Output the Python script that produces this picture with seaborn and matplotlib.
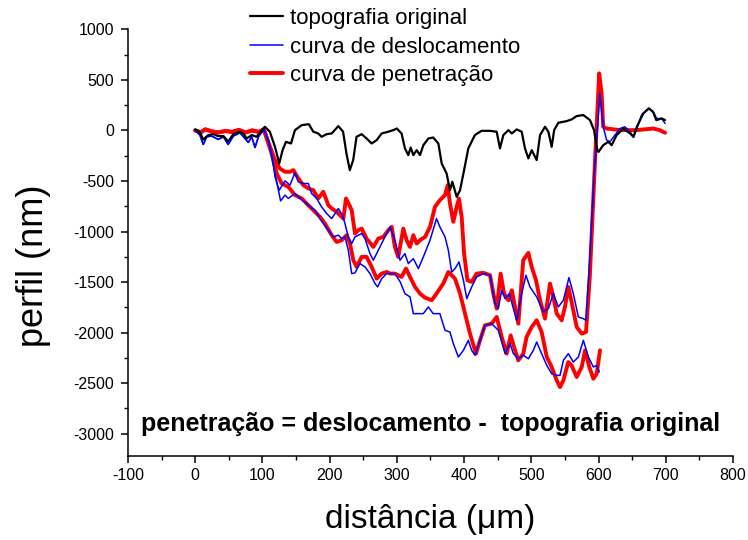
import numpy as np
import pandas as pd
import matplotlib
matplotlib.use("Agg")
import matplotlib.pyplot as plt
from matplotlib.lines import Line2D
from matplotlib.ticker import MultipleLocator
import seaborn as sns

# ---------------- data ----------------
topo_x = [0, 4.6, 7, 12, 19.5, 27, 34.4, 42, 49, 56.7, 66.6, 71.6, 76.5, 84, 91.4, 98.9, 103.8, 111,
          118.7, 125, 130, 135, 142.5, 148.4, 158.4, 169, 175.7, 183, 188, 195.6, 203, 213, 220, 225,
          230, 235, 240, 247.6, 255, 262.5, 270, 277.4, 287.3, 294.7, 300, 307, 312, 317, 320.5, 324.5,
          329.5, 334.4, 339.4, 346.8, 354, 361.7, 366.7, 374, 379, 382.5, 389, 394, 400, 406.3, 416,
          426, 438.6, 448.5, 453.4, 458.4, 466, 471, 478.2, 485.7, 490.6, 495.6, 500.6, 508, 513,
          520.4, 525.4, 530.3, 534, 540.2, 552.6, 560, 567.5, 577.4, 587.3, 593.3, 598.2, 600, 607,
          614.5, 619.5, 627, 637, 647, 652, 657, 666.6, 675, 681, 686, 694, 699]
topo_y = [10, -4, -20, -90, -46, -37, -56, -56, -110, -37, -13, -30, -80, -46, -63, 3, 36, -13,
          -162, -327, -195, -113, -129, 3, 52, 62, -13, -30, -63, -37, -30, 43, -13, -228,
          -393, -294, -63, -37, -80, -129, -96, -30, -13, 3, 19, -30, -178, -244, -169, -244,
          -195, -244, -146, -80, -70, -129, -327, -426, -591, -508, -657, -591, -393, -178, -46,
          -4, -4, -13, -178, -46, 3, -30, 10, -13, -178, -277, -195, -294, -46,
          36, -13, -162, 3, 76, 92, 109, 142, 152, 102, 3, -195, -212, -146,
          -112, -146, -46, 19, -30, -63, 36, 168, 218, 184, 102, 118, 102]

desl_start_x = [0, 7, 12, 17, 24.5, 34.4, 42, 49, 56.7, 66.6, 74, 79, 84, 89, 94, 102]
desl_start_y = [3, -46, -139, -63, -56, -89, -63, -139, -56, -23, -80, -119, -63, -169, -63, 10]

desl1_x = [108.8, 114.7, 118.7, 125, 133.6, 141, 148.4, 153.4, 160.8, 168.3, 173.2, 180.7, 188,
           195.6, 203, 213, 218.9, 222.8, 227.8, 232.8, 237.7, 247.6, 252.6, 260, 265, 272.4, 282.3,
           290, 297, 304.7, 312, 317, 324.5, 332, 339.4, 349.3, 359, 364, 371.6, 376.6, 381.5, 386.5,
           392.4, 399, 404, 411.3, 418.7, 428.7, 438.6, 446, 451, 456, 461, 467.3, 473.3, 478.2,
           485.7, 492, 498, 508, 518, 525.4, 532.8, 540.2, 547.7, 556, 562.5, 570, 577.4, 581.4,
           587, 593.3, 602, 607, 612, 617, 624.4, 632, 639, 647, 652, 657, 664, 674, 681.5, 686.4,
           694, 699]
desl1_y = [-96, -256, -459, -591, -499, -541, -419, -508, -525, -525, -624, -673, -756,
           -822, -872, -773, -839, -921, -1053, -1119, -1053, -1020, -1070, -1218, -1284, -1185, -1053,
           -954, -1086, -1284, -1218, -1317, -1268, -1367, -1251, -1086, -872, -954, -1053, -1185, -1400, -1367,
           -1301, -1482, -1664, -1548, -1449, -1416, -1432, -1713, -1762, -1581, -1664, -1614, -1762, -1878,
           -1614, -1432, -1548, -1647, -1796, -1762, -1614, -1746, -1680, -1456, -1614, -1845, -1862, -1878,
           -1251, -459, 366, 36, -96, -112, -46, 19, 36, -13, -69, 19, 152, 218, 184, 118,
           118, 69]

desl2_x = [108.8, 114.7, 121, 127, 133.6, 138.5, 148.4, 158.4, 168.3, 178.2, 185.6, 190.6, 198,
           205.5, 213, 218, 222.8, 227.8, 232.8, 237.7, 245, 252.6, 260, 267.5, 271.4, 277.4, 284.8,
           290, 297, 305, 312, 319.6, 324.5, 332, 339.4, 346.8, 354, 364, 371.6, 379, 384, 391.5, 399,
           406.3, 411.3, 416.3, 423.7, 431, 441, 451, 461, 468.3, 473.3, 480.7, 488, 495.6, 503, 508,
           515.4, 523, 530.3, 537.8, 542.7, 547.7, 555.1, 562.5, 570, 577.4, 585, 592.3, 597.3, 601.2]
desl2_y = [-96, -294, -500, -697, -640, -673, -624, -683, -740, -789, -872, -921, -987,
           -1053, -1036, -1070, -1053, -1185, -1416, -1409, -1317, -1350, -1416, -1515, -1548, -1466, -1416,
           -1416, -1416, -1498, -1614, -1647, -1812, -1812, -1812, -1746, -1812, -1812, -1977, -1994, -2109, -2241, -2175,
           -2076, -2175, -2224, -2076, -1928, -1911, -1977, -2208, -2109, -2208, -2258, -2224, -2258, -2175, -2093,
           -2208, -2324, -2406, -2423, -2423, -2274, -2208, -2291, -2241, -2076, -2241, -2340, -2324, -2390]

pen_start_x = [0, 8, 15, 25, 35, 45, 55, 65, 75, 85, 95, 102]
pen_start_y = [0, -20, 10, -10, -20, -5, -15, 5, -20, 0, -15, 10]

pen1_x = [111.3, 118.7, 126, 133.6, 141, 146, 153.4, 160.8, 168.3, 175.7, 183, 190.6, 198, 203,
          210.4, 215.4, 220.4, 224.3, 229.3, 232.8, 237.7, 242.7, 247.6, 255, 265, 272.4, 279.9, 287.3,
          292.3, 297, 302, 309.6, 314.6, 319.5, 324.5, 329.5, 334.4, 342, 349.3, 356.7, 364, 371.6,
          375.6, 379, 384, 389, 392.4, 396.4, 400, 405, 411.3, 418.7, 428.7, 438.6, 443.5, 448.5,
          454.4, 459.4, 466, 471, 475.8, 480.7, 488, 495.6, 500.6, 507, 513, 520.4, 527.8, 532.8,
          537.8, 545.2, 550.1, 555.1, 560, 567.5, 575, 581.4, 587, 594.8, 601, 604.6, 607, 612, 632,
          657, 681.5, 691, 699]
pen1_y = [-162, -294, -377, -409, -409, -393, -475, -541, -574, -591, -673, -607, -739, -772,
          -805, -839, -872, -673, -739, -789, -1020, -987, -971, -1070, -1152, -1070, -1053, -987,
          -954, -1152, -1251, -971, -1086, -1152, -1036, -1119, -1086, -1053, -954, -756, -690, -640,
          -541, -723, -904, -756, -674, -855, -1218, -1482, -1498, -1416, -1409, -1432, -1614, -1762,
          -1416, -1614, -1680, -1581, -1746, -1911, -1284, -1211, -1350, -1482, -1680, -1862, -1515, -1647,
          -1812, -1878, -1746, -1548, -1697, -1944, -2010, -1994, -1449, -294, 564, 366, 36, 19, 3,
          3, 19, 3, -23]

pen2_x = [113.7, 121.2, 128.6, 138.5, 148.4, 158.4, 168.3, 178.2, 185.6, 193, 203, 210.4, 217.9,
          225.3, 230.3, 235.2, 240.2, 247.6, 255, 262.5, 270, 277.4, 284.8, 290, 297, 307, 313.6,
          319.6, 327, 334.4, 341.9, 351.8, 359, 369, 376.6, 386.5, 394, 401.4, 408.8, 417.7, 423.7,
          431, 441, 448.5, 456, 463.4, 469.3, 474.3, 480.7, 488, 493, 500.6, 508, 515.4, 523, 530.3,
          537.8, 542.7, 547.7, 555, 560, 567.5, 575, 580, 586.3, 592.3, 597.3, 602.2]
pen2_y = [-228, -426, -525, -558, -640, -673, -740, -805, -855, -921, -1036, -1103, -1086,
          -1036, -1119, -1284, -1350, -1251, -1251, -1350, -1466, -1416, -1400, -1416, -1416, -1449, -1366,
          -1449, -1548, -1614, -1654, -1680, -1614, -1515, -1400, -1466, -1614, -1812, -2010, -2208, -2076,
          -1928, -1911, -1845, -2043, -2208, -2027, -2142, -2274, -2208, -2043, -1944, -1878, -1994, -2241, -2340,
          -2472, -2538, -2472, -2291, -2324, -2439, -2340, -2175, -2340, -2456, -2406, -2175]

labels = ["topografia original", "curva de deslocamento", "curva de penetração"]
annotation = "penetração = deslocamento -  topografia original"

# ---------------- figure ----------------
sns.set_theme(style="ticks")
plt.rcParams["font.family"] = ["Liberation Sans", "DejaVu Sans"]
plt.rcParams["axes.unicode_minus"] = False
for k in ("text.color", "axes.labelcolor", "xtick.color", "ytick.color", "axes.edgecolor"):
    plt.rcParams[k] = "black"

fig = plt.figure(figsize=(7.48, 5.40), dpi=100)
ax = fig.add_axes([0.1711, 0.1556, 0.8088, 0.7901])

def frame(xs, ys):
    return pd.DataFrame({"x": xs, "y": ys})

pen1 = frame(pen_start_x + pen1_x, pen_start_y + pen1_y)
pen2 = frame(pen_start_x + pen2_x, pen_start_y + pen2_y)
desl1 = frame(desl_start_x + desl1_x, desl_start_y + desl1_y)
desl2 = frame(desl_start_x + desl2_x, desl_start_y + desl2_y)
topo = frame(topo_x, topo_y)

red, blue, black = "#ff0000", "#0000ff", "#000000"
lw_red, lw_blue, lw_black = 2.8, 1.1, 1.6

for d in (pen1, pen2):
    sns.lineplot(data=d, x="x", y="y", ax=ax, color=red, lw=lw_red, sort=False,
                 estimator=None, legend=False)
for d in (desl1, desl2):
    sns.lineplot(data=d, x="x", y="y", ax=ax, color=blue, lw=lw_blue, sort=False,
                 estimator=None, legend=False)
sns.lineplot(data=topo, x="x", y="y", ax=ax, color=black, lw=lw_black, sort=False,
             estimator=None, legend=False)

ax.set_xlim(-100, 800)
ax.set_ylim(-3220, 1000)
ax.xaxis.set_major_locator(MultipleLocator(100))
ax.xaxis.set_minor_locator(MultipleLocator(50))
ax.yaxis.set_major_locator(MultipleLocator(500))
ax.yaxis.set_minor_locator(MultipleLocator(250))
ax.set_yticks(np.arange(-3000, 1001, 500))
sns.despine(ax=ax)
for s in ("left", "bottom"):
    ax.spines[s].set_linewidth(1.1)
    ax.spines[s].set_color("black")
ax.tick_params(which="major", direction="out", length=5, width=1.1, color="black",
               labelsize=11.5, pad=4, labelcolor="black")
ax.tick_params(which="minor", direction="out", length=3, width=1.0, color="black")
ax.tick_params(axis="y", which="major", pad=5)

ax.set_xlabel("distância (μm)", fontsize=24)
ax.set_ylabel("perfil (nm)", fontsize=26)
ax.xaxis.set_label_coords(0.5, -0.112)
ax.yaxis.set_label_coords(-0.127, 0.447)

ax.text(350, -2900, annotation, fontsize=18, fontweight="bold", ha="center", va="center")

handles = [Line2D([], [], color=black, lw=lw_black),
           Line2D([], [], color=blue, lw=lw_blue),
           Line2D([], [], color=red, lw=lw_red)]
fig.legend(handles, labels, loc="upper left", bbox_to_anchor=(250 / 748, 1 - 8 / 540),
           frameon=False, fontsize=16, handlelength=1.5, handletextpad=0.3,
           labelspacing=0.34, borderaxespad=0, borderpad=0)

fig.savefig("out.png", dpi=100)
